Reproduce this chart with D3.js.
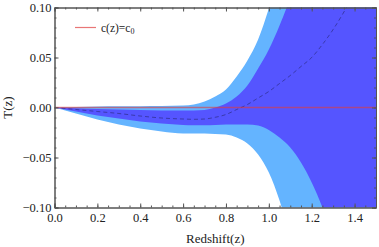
<!DOCTYPE html>
<html>
<head>
<meta charset="utf-8">
<script src="https://cdn.jsdelivr.net/npm/d3@7"></script>
<style>
  body { margin: 0; background: #fff; }
  svg text { font-family: "Liberation Serif", "Times New Roman", serif !important; }
</style>
</head>
<body>
<div id="chart"></div>
<script>
// redshift grid and band edges
const zs    = [0, 0.1, 0.2, 0.3, 0.4, 0.5, 0.6, 0.65, 0.7, 0.75, 0.8, 0.85, 0.9, 0.95, 1.0, 1.05, 1.1, 1.15, 1.2, 1.25, 1.3, 1.4, 1.5];
const hi2   = [0, .0005, .001, .0012, .0013, .0015, .002, .003, .006, .011, .018, .031, .047, .068, .099, .135, .18, .23, .29, .36, .44, .6, .8];
const hi1   = [0, -.0007, -.0015, -.002, -.0025, -.003, -.003, -.003, -.0025, 0, .004, .011, .022, .039, .058, .082, .11, .145, .19, .24, .3, .45, .6];
const meanT = [0, -.002, -.004, -.006, -.0085, -.0105, -.0115, -.0118, -.0115, -.0098, -.007, -.002, .003, .0095, .016, .024, .032, .041, .05, .063, .078, .115, .16];
const lo1   = [0, -.004, -.008, -.011, -.014, -.016, -.0175, -.0177, -.0177, -.0175, -.017, -.017, -.017, -.018, -.0225, -.03, -.04, -.055, -.075, -.1, -.13, -.2, -.3];
const lo2   = [0, -.006, -.012, -.017, -.021, -.024, -.026, -.026, -.026, -.0265, -.027, -.03, -.036, -.047, -.065, -.093, -.13, -.17, -.22, -.28, -.35, -.5, -.7];

const xTicks = [0, 0.2, 0.4, 0.6, 0.8, 1.0, 1.2, 1.4];
const yTicks = [-0.10, -0.05, 0, 0.05, 0.10];
const legendLabel = "c(z)=c";

const width = 379, height = 247;
const pL = 54.5, pR = 376, pT = 7.5, pB = 207.5;

const x = d3.scaleLinear().domain([0, 1.5]).range([pL, pR]);
const y = d3.scaleLinear().domain([-0.1, 0.1]).range([pB, pT]);

const svg = d3.select("#chart").append("svg")
  .attr("width", width)
  .attr("height", height);

svg.append("clipPath").attr("id", "clip")
  .append("rect")
  .attr("x", pL).attr("y", pT)
  .attr("width", pR - pL).attr("height", pB - pT);

const plot = svg.append("g").attr("clip-path", "url(#clip)");

function band(lo, hi) {
  return d3.area()
    .x((d, i) => x(zs[i]))
    .y0((d, i) => y(lo[i]))
    .y1((d, i) => y(hi[i]))
    .curve(d3.curveMonotoneX)(zs);
}

plot.append("path").attr("d", band(lo2, hi2)).attr("fill", "#64b4ff");
plot.append("path").attr("d", band(lo1, hi1)).attr("fill", "#5555ff");

plot.append("path")
  .attr("d", d3.line().x((d, i) => x(zs[i])).y((d, i) => y(meanT[i])).curve(d3.curveMonotoneX)(zs))
  .attr("fill", "none")
  .attr("stroke", "#2a2a7a")
  .attr("stroke-opacity", 0.7)
  .attr("stroke-width", 0.9)
  .attr("stroke-dasharray", "4,3");

// c(z)=c0 line
plot.append("line")
  .attr("x1", x(0)).attr("x2", x(1.5))
  .attr("y1", y(0)).attr("y2", y(0))
  .attr("stroke", "#e03c3c")
  .attr("stroke-opacity", 0.6)
  .attr("stroke-width", 1.3);

// frame with inward ticks on all sides
const frameColor = "#555";
const xMinor = d3.range(0, 1.5001, 0.05).map(v => +v.toFixed(2));
const yMinor = d3.range(-0.1, 0.1001, 0.01).map(v => +v.toFixed(2));

function drawAxis(axis, transform, showLabels) {
  const g = svg.append("g").attr("transform", transform).call(axis)
    .attr("font-family", null);
  g.select(".domain").attr("stroke", frameColor);
  g.selectAll(".tick line").attr("stroke", frameColor);
  g.selectAll(".tick text")
    .attr("font-size", 12.5)
    .attr("fill", "#222");
  if (!showLabels) g.selectAll(".tick text").remove();
  return g;
}

// minor ticks
drawAxis(d3.axisBottom(x).tickValues(xMinor).tickSize(-2).tickFormat(""), `translate(0,${pB})`, false);
drawAxis(d3.axisTop(x).tickValues(xMinor).tickSize(-2).tickFormat(""), `translate(0,${pT})`, false);
drawAxis(d3.axisLeft(y).tickValues(yMinor).tickSize(-2).tickFormat(""), `translate(${pL},0)`, false);
drawAxis(d3.axisRight(y).tickValues(yMinor).tickSize(-2).tickFormat(""), `translate(${pR},0)`, false);

// major ticks
drawAxis(d3.axisBottom(x).tickValues(xTicks).tickSize(-4).tickPadding(6).tickFormat(d3.format(".1f")), `translate(0,${pB})`, true);
drawAxis(d3.axisTop(x).tickValues(xTicks).tickSize(-4), `translate(0,${pT})`, false);
drawAxis(d3.axisLeft(y).tickValues(yTicks).tickSize(-4).tickPadding(3).tickFormat(d3.format(".2f")), `translate(${pL},0)`, true);
drawAxis(d3.axisRight(y).tickValues(yTicks).tickSize(-4), `translate(${pR},0)`, false);

// axis titles
svg.append("text")
  .attr("x", (pL + pR) / 2).attr("y", 243)
  .attr("text-anchor", "middle")
  .attr("font-size", 13)
  .attr("fill", "#222")
  .text("Redshift(z)");

svg.append("text")
  .attr("transform", `translate(12,${(pT + pB) / 2}) rotate(-90)`)
  .attr("text-anchor", "middle")
  .attr("font-size", 13)
  .attr("fill", "#222")
  .text("T(z)");

// legend
const lg = svg.append("g");
lg.append("line")
  .attr("x1", 75).attr("x2", 96)
  .attr("y1", 27.5).attr("y2", 27.5)
  .attr("stroke", "#e03c3c")
  .attr("stroke-opacity", 0.7)
  .attr("stroke-width", 1.2);
const lt = lg.append("text")
  .attr("x", 101).attr("y", 31.5)
  .attr("font-size", 11.5)
  .attr("fill", "#222")
  .text(legendLabel);
lt.append("tspan").attr("font-size", 8).attr("dy", 2).text("0");
</script>
</body>
</html>
